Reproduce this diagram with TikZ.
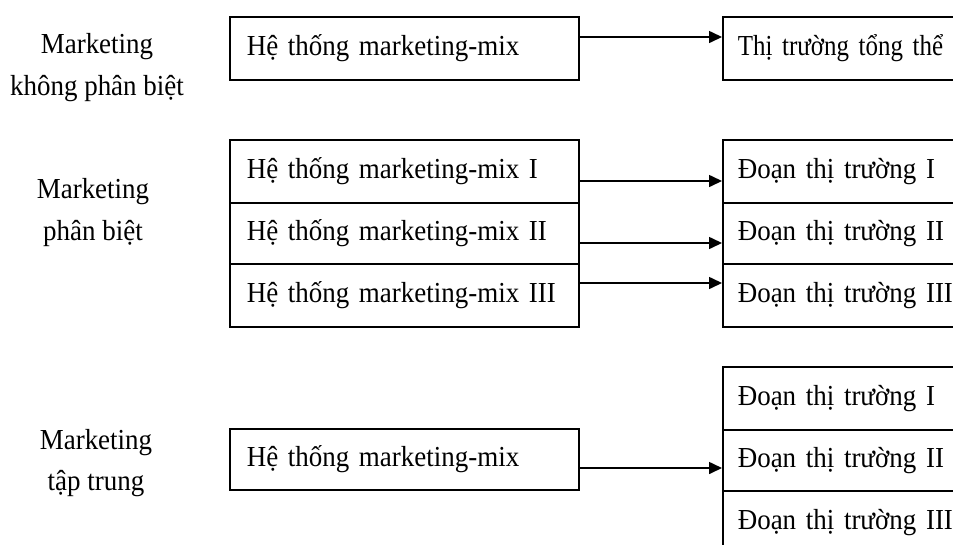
\documentclass[tikz,border=0pt]{standalone}
\usepackage{fontspec}
\setmainfont{Liberation Serif}[FakeStretch=0.93]
\newfontfamily\narrowfont{Liberation Serif}[FakeStretch=0.86]
\usetikzlibrary{arrows.meta}
\begin{document}
\begin{tikzpicture}[x=1pt,y=-1pt,
  cell/.style={draw, line width=1.6pt, rectangle, anchor=north west,
    inner ysep=0pt, align=left, text height=20pt, text depth=6pt,
    font=\fontsize{29}{34}\selectfont},
  lcell/.style={cell, inner xsep=17pt, text width=315pt},
  rcell/.style={cell, inner xsep=15pt, text width=230pt},
  lab/.style={anchor=base, inner sep=0pt, font=\fontsize{29}{34}\selectfont},
  arr/.style={line width=1.6pt, -{Triangle[length=13pt,width=12pt]}}]
\useasboundingbox (0,0) rectangle (953,544);
\clip (0,0) rectangle (953,544);
% labels
\node[lab] (m1a) at (97,53) {Marketing};
\node[lab] (m1b) at (97,95) {không phân biệt};
\node[lab] (m2a) at (93,198) {Marketing};
\node[lab] (m2b) at (93,240) {phân biệt};
\node[lab] (m3a) at (96,449) {Marketing};
\node[lab] (m3b) at (96,490) {tập trung};
% row 1
\node[lcell, minimum height=63pt] (L1) at (229,16) {Hệ thống marketing-mix};
\node[rcell, minimum height=63pt] (R1) at (722,16) {\narrowfont Thị trường tổng thể};
% row 2
\node[lcell, minimum height=63pt] (L2a) at (229,139) {Hệ thống marketing-mix I};
\node[lcell, minimum height=61pt] (L2b) at (229,202) {Hệ thống marketing-mix II};
\node[lcell, minimum height=63pt] (L2c) at (229,263) {Hệ thống marketing-mix III};
\node[rcell, minimum height=63pt] (R2a) at (722,139) {Đoạn thị trường I};
\node[rcell, minimum height=61pt] (R2b) at (722,202) {Đoạn thị trường II};
\node[rcell, minimum height=63pt] (R2c) at (722,263) {Đoạn thị trường III};
% row 3
\node[lcell, minimum height=61pt] (L3) at (229,428) {Hệ thống marketing-mix};
\node[rcell, minimum height=63pt] (R3a) at (722,366) {Đoạn thị trường I};
\node[rcell, minimum height=61pt] (R3b) at (722,429) {Đoạn thị trường II};
\node[rcell, minimum height=63pt] (R3c) at (722,490) {Đoạn thị trường III};
% arrows
\coordinate (y1) at (0,37);
\coordinate (y2) at (0,181);
\coordinate (y3) at (0,243);
\coordinate (y4) at (0,283);
\coordinate (y5) at (0,468);
\draw[arr] (L1.east |- y1) -- (R1.west |- y1);
\draw[arr] (L2a.east |- y2) -- (R2a.west |- y2);
\draw[arr] (L2b.east |- y3) -- (R2b.west |- y3);
\draw[arr] (L2c.east |- y4) -- (R2c.west |- y4);
\draw[arr] (L3.east |- y5) -- (R3b.west |- y5);
\end{tikzpicture}
\end{document}
